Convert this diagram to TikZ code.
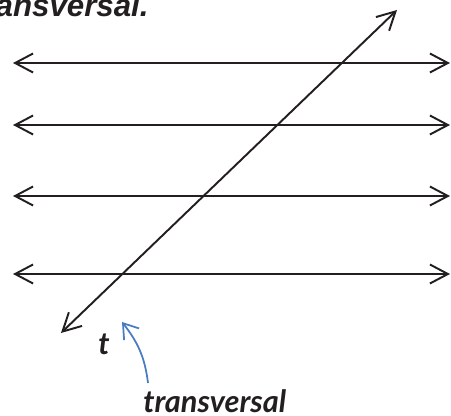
\documentclass[tikz,border=0pt]{standalone}
\usepackage{fontspec}
\setmainfont{Liberation Sans}
\newfontfamily\labelfont{Lato}
\usepackage{tikz}
\usetikzlibrary{arrows.meta, positioning}

\definecolor{noteblue}{RGB}{74,125,192}
\definecolor{ink}{RGB}{35,31,32}

\begin{document}
\begin{tikzpicture}[
    x=0.02cm, y=0.02cm,
    line/.style={line width=1.1pt, draw=ink, {Straight Barb[length=3.6mm, width=3.8mm, line width=1.1pt]}-{Straight Barb[length=3.6mm, width=3.8mm, line width=1.1pt]}},
    note/.style={line width=1pt, draw=noteblue, -{Straight Barb[length=2.8mm, width=3.8mm, line width=1pt]}},
    head/.style={font=\fontsize{17.8}{20}\selectfont\bfseries\itshape, text=ink, inner sep=0pt},
    tag/.style={font=\labelfont\fontsize{17.5}{20}\selectfont\bfseries\itshape, text=ink, inner sep=0pt}
]
\useasboundingbox (0,0) rectangle (451,416);
\begin{scope}
\clip (0,0) rectangle (451,416);
\node[head, anchor=base east] (title) at (149,399) {transversal.};
\end{scope}

% parallel lines
\foreach \i/\y in {1/353, 2/291, 3/220, 4/142}{
    \coordinate (l\i) at (13,\y);
    \coordinate (r\i) at (450,\y);
}
\foreach \i in {1,...,4}{\draw[line] (l\i) -- (r\i);}

% transversal
\coordinate (tlow) at (61,83);
\coordinate (thigh) at (397,406);
\draw[line] (tlow) -- (thigh);

\node[tag, anchor=base] (tname) at (104,61) {t};
\node[tag, anchor=base west] (tnote) at (143,3) {transversal};
\coordinate (tail) at (148,33);
\coordinate (tip) at (122,94);
\draw[note] (tail) to[out=97, in=-52] (tip);
\end{tikzpicture}
\end{document}
